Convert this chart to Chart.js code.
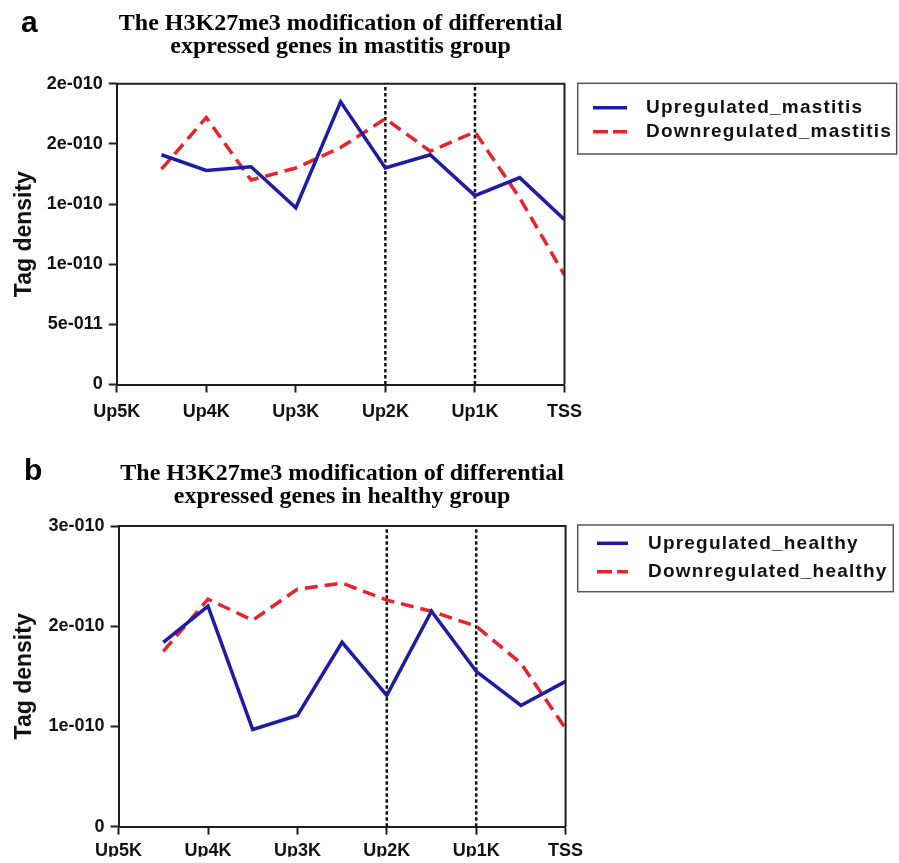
<!DOCTYPE html>
<html>
<head>
<meta charset="utf-8">
<title>H3K27me3 tag density</title>
<script src="https://cdn.jsdelivr.net/npm/chart.js@4.4.0/dist/chart.umd.min.js"></script>
<style>
    html, body { margin: 0; padding: 0; background: #fff; overflow: hidden; }
    .panel { position: absolute; left: 0; width: 899px; }
    #panelA { top: 0; height: 440px; }
    #panelB { top: 440px; height: 423px; }
    canvas { display: block; }
</style>
</head>
<body>
<div class="panel" id="panelA"><canvas id="chartA" width="899" height="440"></canvas></div>
<div class="panel" id="panelB"><canvas id="chartB" width="899" height="423"></canvas></div>
<script>
// 位置標籤 (x 軸)
const positionLabels = ['Up5K', 'Up4K', 'Up3K', 'Up2K', 'Up1K', 'TSS'];
// 每個取樣點在 x 軸上的位置
const binPositions = [0.5, 1, 1.5, 2, 2.5, 3, 3.5, 4, 4.5, 5];

// a: mastitis group
const upMastitis   = [1.91e-10, 1.78e-10, 1.81e-10, 1.47e-10, 2.35e-10, 1.80e-10, 1.91e-10, 1.57e-10, 1.72e-10, 1.37e-10];
const downMastitis = [1.79e-10, 2.22e-10, 1.70e-10, 1.80e-10, 1.97e-10, 2.21e-10, 1.94e-10, 2.10e-10, 1.55e-10, 0.91e-10];

// b: healthy group
const upHealthy   = [1.84e-10, 2.20e-10, 0.97e-10, 1.11e-10, 1.84e-10, 1.31e-10, 2.15e-10, 1.55e-10, 1.21e-10, 1.45e-10];
const downHealthy = [1.75e-10, 2.27e-10, 2.06e-10, 2.37e-10, 2.43e-10, 2.26e-10, 2.15e-10, 2.00e-10, 1.63e-10, 0.98e-10];

// y 軸刻度文字 (照原圖)
const yTicksMastitis = ['0', '5e-011', '1e-010', '1e-010', '2e-010', '2e-010'];
const yTicksHealthy  = ['0', '1e-010', '2e-010', '3e-010'];

// 虛線參考位置: Up2K, Up1K
const guidePositions = [3, 4];

const BLUE = '#1c1ca6';
const RED = '#e8232b';
const AXIS_COLOR = '#1e1e1e';
const SANS = '"Liberation Sans", Arial, Helvetica, sans-serif';
const SERIF = '"Liberation Serif", "Times New Roman", serif';

Chart.defaults.font.family = SANS;
Chart.defaults.color = '#111';

// 外框、標題、面板字母、圖例
const panelDecor = {
    id: 'panelDecor',
    afterDraw(chart, args, opts) {
        const ctx = chart.ctx;
        const area = chart.chartArea;
        ctx.save();

        // 上方與右方框線
        ctx.strokeStyle = AXIS_COLOR;
        ctx.lineWidth = 2;
        ctx.beginPath();
        ctx.moveTo(area.left - 1, area.top);
        ctx.lineTo(area.right, area.top);
        ctx.lineTo(area.right, area.bottom);
        ctx.stroke();

        // 面板字母
        ctx.fillStyle = '#000';
        ctx.textAlign = 'left';
        ctx.textBaseline = 'alphabetic';
        ctx.font = 'bold 30px ' + SANS;
        ctx.fillText(opts.letter, opts.letterX, opts.letterY);

        // 標題
        ctx.font = 'bold 24px ' + SERIF;
        ctx.textAlign = 'center';
        const cx = (area.left + area.right) / 2;
        opts.title.forEach((line, i) => ctx.fillText(line, cx, opts.titleBaselines[i]));

        // 圖例
        const lg = opts.legend;
        ctx.strokeStyle = '#555';
        ctx.lineWidth = 1.5;
        ctx.strokeRect(lg.x, lg.y, lg.w, lg.h);
        ctx.font = 'bold 19px ' + SANS;
        ctx.letterSpacing = '1.2px';
        ctx.textAlign = 'left';
        ctx.textBaseline = 'middle';
        chart.data.datasets.filter(ds => !ds.isGuide).forEach((ds, i) => {
            const y = lg.rowY[i];
            ctx.strokeStyle = ds.borderColor;
            ctx.lineWidth = ds.borderWidth;
            ctx.setLineDash(ds.legendDash || []);
            ctx.beginPath();
            ctx.moveTo(lg.lineX0, y);
            ctx.lineTo(lg.lineX1, y);
            ctx.stroke();
            ctx.setLineDash([]);
            ctx.fillStyle = '#111';
            ctx.fillText(ds.label, lg.textX, y);
        });
        ctx.restore();
    }
};

function toPoints(values) {
    return binPositions.map((x, i) => ({ x: x, y: values[i] }));
}

function guideDatasets(yMax) {
    return guidePositions.map(x => ({
        label: '',
        isGuide: true,
        data: [{ x: x, y: 0 }, { x: x, y: yMax }],
        borderColor: '#111',
        borderWidth: 2.5,
        borderDash: [3.5, 2.5],
        pointRadius: 0,
        order: 2
    }));
}

function createPanel(canvasId, cfg) {
    const datasets = [
        {
            label: cfg.upLabel,
            data: toPoints(cfg.up),
            borderColor: BLUE,
            borderWidth: 3.5,
            pointRadius: 0,
            tension: 0,
            order: 0
        },
        {
            label: cfg.downLabel,
            data: toPoints(cfg.down),
            borderColor: RED,
            borderWidth: 3.5,
            borderDash: [13, 7],
            legendDash: [15, 5],
            pointRadius: 0,
            tension: 0,
            order: 0
        }
    ].concat(guideDatasets(cfg.yMax));

    return new Chart(document.getElementById(canvasId), {
        type: 'line',
        data: { datasets: datasets },
        plugins: [panelDecor],
        options: {
            responsive: false,
            animation: false,
            events: [],
            layout: { padding: cfg.padding },
            plugins: {
                legend: { display: false },
                tooltip: { enabled: false },
                panelDecor: cfg.decor
            },
            scales: {
                x: {
                    type: 'linear',
                    min: 0,
                    max: 5,
                    afterFit: s => { s.height = cfg.xAxisHeight; },
                    ticks: {
                        stepSize: 1,
                        padding: cfg.xTickPadding,
                        font: { size: 18, weight: 'bold' },
                        callback: (v) => positionLabels[v]
                    },
                    grid: { drawOnChartArea: false, drawTicks: true, tickLength: 8, tickWidth: 2, tickColor: AXIS_COLOR },
                    border: { display: true, color: AXIS_COLOR, width: 2 }
                },
                y: {
                    type: 'linear',
                    min: 0,
                    max: cfg.yMax,
                    afterFit: s => { s.width = cfg.yAxisWidth; },
                    ticks: {
                        stepSize: cfg.yStep,
                        padding: 6,
                        font: { size: 18, weight: 'bold' },
                        callback: (v, i) => cfg.yTicks[i]
                    },
                    grid: { drawOnChartArea: false, drawTicks: true, tickLength: 8, tickWidth: 2, tickColor: AXIS_COLOR },
                    border: { display: true, color: AXIS_COLOR, width: 2 },
                    title: {
                        display: true,
                        text: 'Tag density',
                        color: '#111',
                        padding: { top: 11, bottom: 0 },
                        font: { size: 23, weight: 'bold' }
                    }
                }
            }
        }
    });
}

createPanel('chartA', {
    up: upMastitis,
    down: downMastitis,
    upLabel: 'Upregulated_mastitis',
    downLabel: 'Downregulated_mastitis',
    yMax: 2.5e-10,
    yStep: 5e-11,
    yTicks: yTicksMastitis,
    yAxisWidth: 116.7,
    xAxisHeight: 40,
    xTickPadding: 9,
    padding: { left: 0, top: 83.8, right: 334.5, bottom: 15.5 },
    decor: {
        letter: 'a', letterX: 21, letterY: 32,
        title: ['The H3K27me3 modification of differential', 'expressed genes in mastitis group'],
        titleBaselines: [30, 53],
        legend: { x: 577.7, y: 83.3, w: 319, h: 70.7, rowY: [107.7, 131.7], lineX0: 593, lineX1: 627, textX: 646 }
    }
});

createPanel('chartB', {
    up: upHealthy,
    down: downHealthy,
    upLabel: 'Upregulated_healthy',
    downLabel: 'Downregulated_healthy',
    yMax: 3e-10,
    yStep: 1e-10,
    yTicks: yTicksHealthy,
    yAxisWidth: 118.6,
    xAxisHeight: 30,
    xTickPadding: 6,
    padding: { left: 0, top: 86, right: 333.4, bottom: 6.3 },
    decor: {
        letter: 'b', letterX: 24, letterY: 40,
        title: ['The H3K27me3 modification of differential', 'expressed genes in healthy group'],
        titleBaselines: [40, 63],
        legend: { x: 577.7, y: 85, w: 315.6, h: 66.7, rowY: [103.3, 131.7], lineX0: 597, lineX1: 628, textX: 648 }
    }
});
</script>
</body>
</html>
